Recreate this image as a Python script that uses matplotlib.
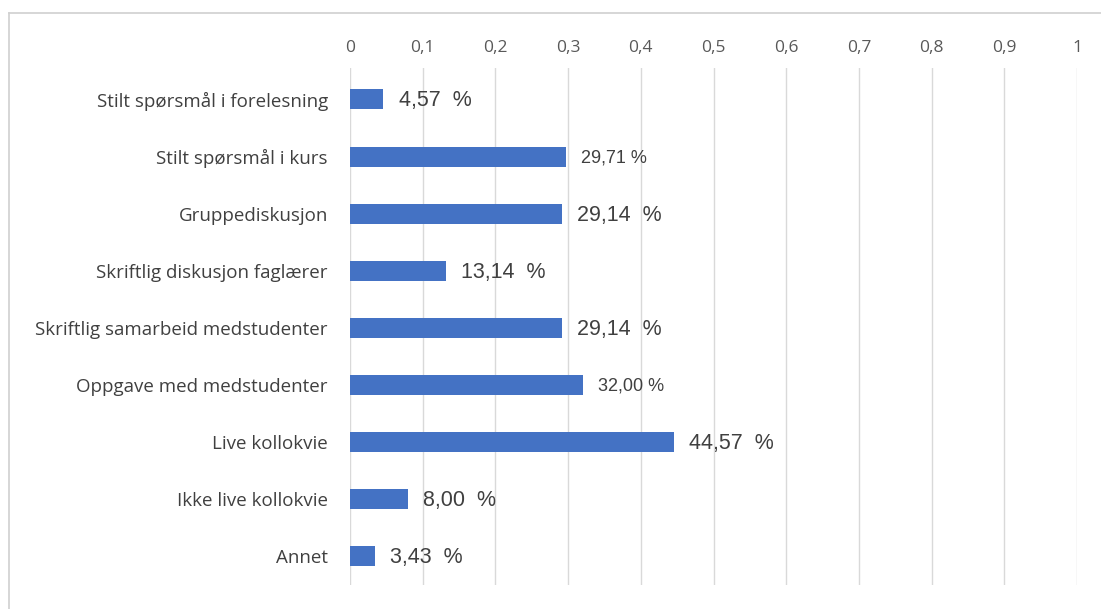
import matplotlib
matplotlib.use("Agg")
import matplotlib.pyplot as plt
from matplotlib.lines import Line2D

categories = ["Stilt spørsmål i forelesning", "Stilt spørsmål i kurs", "Gruppediskusjon",
              "Skriftlig diskusjon faglærer", "Skriftlig samarbeid medstudenter",
              "Oppgave med medstudenter", "Live kollokvie", "Ikke live kollokvie", "Annet"]
values = [0.0457, 0.2971, 0.2914, 0.1314, 0.2914, 0.3200, 0.4457, 0.0800, 0.0343]
value_labels = ["4,57  %", "29,71 %", "29,14  %", "13,14  %", "29,14  %", "32,00 %",
                "44,57  %", "8,00  %", "3,43  %"]
small_label = [False, True, False, False, False, True, False, False, False]
xticks = [0, 0.1, 0.2, 0.3, 0.4, 0.5, 0.6, 0.7, 0.8, 0.9, 1.0]
xticklabels = ["0", "0,1", "0,2", "0,3", "0,4", "0,5", "0,6", "0,7", "0,8", "0,9", "1"]

W, H = 1101, 609
fig = plt.figure(figsize=(W / 100, H / 100), dpi=100)
ax = fig.add_axes([350 / W, 1 - 585 / H, 727 / W, (585 - 68) / H])

ys = list(range(len(categories)))
ax.barh(ys, values, height=0.35, color="#4472C4", zorder=3)
ax.set_xlim(0, 1)
ax.set_ylim(len(categories) - 0.5, -0.55)

ax.set_xticks(xticks)
ax.set_xticklabels(xticklabels, fontsize=12.5, color="#595959", family="Open Sans")
ax.xaxis.tick_top()
ax.tick_params(axis="x", length=0, pad=9)
ax.set_yticks(ys)
ax.set_yticklabels(categories, fontsize=13.5, color="#404040", family="Open Sans")
ax.tick_params(axis="y", length=0, pad=16)
ax.grid(axis="x", color="#d9d9d9", linewidth=1, zorder=0)
for s in ax.spines.values():
    s.set_visible(False)

for y, v, lab, sm in zip(ys, values, value_labels, small_label):
    ax.annotate(lab, (v, y), xytext=(11, -1), textcoords="offset points",
                va="center", ha="left", fontsize=13 if sm else 15.5,
                color="#404040", family="Liberation Sans")

# outer frame
fig.add_artist(Line2D([9 / W, 1], [1 - 13 / H, 1 - 13 / H], transform=fig.transFigure,
                      color="#d0d0d0", linewidth=1.2))
fig.add_artist(Line2D([9 / W, 9 / W], [0, 1 - 13 / H], transform=fig.transFigure,
                      color="#d0d0d0", linewidth=1.2))

fig.savefig("out.png", dpi=100)
